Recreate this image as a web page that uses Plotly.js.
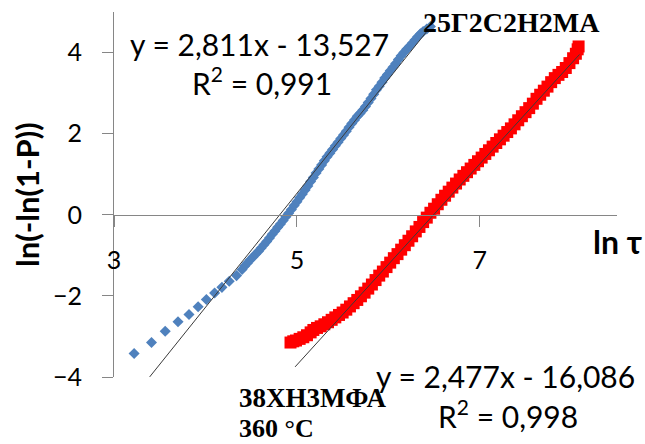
<!DOCTYPE html>
<html><head><meta charset="utf-8">
<script src="https://cdn.plot.ly/plotly-3.0.1.min.js"></script>
<style>html,body{margin:0;padding:0;background:#fff}#chart{width:645px;height:444px}</style>
</head><body><div id="chart"></div>
<script>
// 25Г2С2Н2МА (blue) data, ln τ vs ln(-ln(1-P))
const blueX = [3.22,3.41,3.56,3.70,3.82,3.92,4.01,4.10,4.18,4.26,4.34,4.40,
  4.43,4.46,4.49,4.52,4.55,4.58,4.61,4.64,4.67,4.70,4.73,4.76,4.79,4.82,4.85,4.88,4.91,4.94,4.97,
  5.00,5.03,5.06,5.09,5.12,5.15,5.18,5.21,5.24,5.27,5.30,5.33,5.36,5.39,5.42,5.45,5.48,5.51,5.54,
  5.57,5.60,5.63,5.66,5.69,5.72,5.75,5.78,5.81,5.84,5.87,5.90,5.93,5.96,5.99,6.02,6.05,6.08,6.11,
  6.14,6.17,6.20,6.23,6.26,6.29,6.32,6.35,6.38,6.42,6.46];
const blueY = [-3.42,-3.15,-2.87,-2.64,-2.46,-2.27,-2.09,-1.93,-1.79,-1.64,-1.50,-1.35,
  -1.26,-1.19,-1.11,-1.04,-0.97,-0.90,-0.82,-0.74,-0.66,-0.57,-0.48,-0.40,-0.31,-0.23,-0.14,-0.05,0.04,0.13,0.23,
  0.32,0.42,0.51,0.61,0.71,0.82,0.92,1.03,1.13,1.23,1.33,1.43,1.52,1.61,1.70,1.79,1.88,1.97,2.06,
  2.16,2.25,2.34,2.43,2.50,2.58,2.67,2.77,2.87,2.97,3.08,3.17,3.27,3.37,3.46,3.55,3.64,3.73,3.83,
  3.92,4.00,4.08,4.15,4.23,4.31,4.39,4.46,4.52,4.58,4.64];
// 38ХН3МФА (red) data
const redX = [4.93,4.96,4.99,5.03,5.07,5.11,5.15,5.18,5.22,5.26,5.30,5.34,5.38,5.42,5.46,5.50,5.54,
  5.58,5.62,5.66,5.70,5.74,5.78,5.82,5.86,5.90,5.94,5.98,6.02,6.06,6.10,6.14,6.18,6.22,6.26,6.30,
  6.34,6.38,6.42,6.46,6.50,6.54,6.58,6.62,6.66,6.70,6.74,6.78,6.82,6.86,6.90,6.94,6.98,7.02,7.06,
  7.10,7.14,7.18,7.22,7.26,7.30,7.34,7.38,7.42,7.46,7.50,7.54,7.58,7.62,7.66,7.70,7.74,7.78,7.82,
  7.86,7.90,7.94,7.98,8.02,8.05,8.07,8.08];
const redY = [-3.15,-3.12,-3.10,-3.06,-3.02,-2.97,-2.90,-2.84,-2.79,-2.75,-2.70,-2.65,-2.59,-2.53,-2.47,-2.41,-2.34,
  -2.26,-2.18,-2.10,-2.01,-1.92,-1.82,-1.72,-1.61,-1.50,-1.40,-1.29,-1.18,-1.07,-0.97,-0.86,-0.75,-0.64,-0.53,-0.41,
  -0.30,-0.18,-0.07,0.05,0.15,0.26,0.37,0.47,0.57,0.67,0.77,0.87,0.96,1.05,1.14,1.23,1.32,1.41,1.50,
  1.59,1.68,1.77,1.86,1.95,2.04,2.13,2.23,2.33,2.43,2.53,2.63,2.74,2.86,2.96,3.06,3.16,3.27,3.37,
  3.45,3.52,3.62,3.74,3.86,3.97,4.08,4.15];
// Linear trendlines
const trendSlope = [2.811, 2.477];
const trendIntercept = [-13.527, -16.086];
const trendXStart = [3.39, 4.98];
const trendXEnd = [6.44, 8.09];
const xTicks = [3, 5, 7];
const yTicks = [-4, -2, 0, 2, 4];

const SANS = 'Lato, "Open Sans", sans-serif';
const SERIF = '"Liberation Serif", "DejaVu Serif", serif';

const traces = [
  {x: blueX, y: blueY, mode: 'markers', type: 'scatter',
   marker: {symbol: 'diamond', size: 8.5, color: '#4F81BD'}},
  {x: redX, y: redY, mode: 'markers', type: 'scatter',
   marker: {symbol: 'square', size: 12, color: '#FF0000'}}
];
for (let i = 0; i < trendSlope.length; i++) {
  const xs = [trendXStart[i], trendXEnd[i]];
  traces.push({x: xs, y: xs.map(v => trendSlope[i] * v + trendIntercept[i]),
    mode: 'lines', type: 'scatter', line: {color: '#3a3a3a', width: 1}});
}

const L = 114, R = 28, T = 12, B = 67, W = 645, H = 444;
const pw = W - L - R, ph = H - T - B;
const fx = px => (px - L) / pw;
const fy = py => (H - B - py) / ph;

function ann(text, px, py, font, opts) {
  return Object.assign({text: text, xref: 'paper', yref: 'paper', x: fx(px), y: fy(py),
    showarrow: false, xanchor: 'center', yanchor: 'middle', font: font}, opts || {});
}
const eqFont = {family: SANS, size: 30, color: '#000'};
const serifFont = {family: SERIF, size: 28, color: '#000'};

const layout = {
  width: W, height: H,
  margin: {l: L, r: R, t: T, b: B},
  paper_bgcolor: '#fff', plot_bgcolor: '#fff',
  showlegend: false,
  xaxis: {range: [3, 8.5], tickvals: xTicks, ticks: 'outside', ticklen: 11, tickcolor: '#868686',
    showline: true, linecolor: '#868686', linewidth: 1, showgrid: false, zeroline: false,
    anchor: 'free', position: 4 / 9, ticklabelstandoff: 12,
    tickfont: {family: SANS, size: 25, color: '#000'}},
  yaxis: {range: [-4, 5], tickvals: yTicks, ticks: 'outside', ticklen: 11, tickcolor: '#868686',
    showline: true, linecolor: '#868686', linewidth: 1, showgrid: false, zeroline: false,
    ticklabelstandoff: 15,
    tickfont: {family: SANS, size: 25, color: '#000'}},
  annotations: [
    ann('y = 2,811x - 13,527', 259.5, 43.5, eqFont),
    ann('R<sup>2</sup> = 0,991', 261.7, 81, eqFont),
    ann('y = 2,477x - 16,086', 505, 376, eqFont),
    ann('R<sup>2</sup> = 0,998', 507.5, 414, eqFont),
    ann('<b>25Г2С2Н2МА</b>', 511, 23, serifFont),
    ann('<b>38ХН3МФА</b>', 237, 398, {family: SERIF, size: 27, color: '#000'}, {xanchor: 'left'}),
    ann('<b>360 °C</b>', 237, 428, {family: SERIF, size: 26, color: '#000'}, {xanchor: 'left'}),
    ann('<b>ln τ</b>', 617, 241, {family: SANS, size: 32, color: '#000'}),
    ann('<b>ln(-ln(1-P))</b>', 27, 195, {family: SANS, size: 31, color: '#000'}, {textangle: -90})
  ]
};

Plotly.newPlot('chart', traces, layout, {displayModeBar: false, staticPlot: true});
</script>
</body></html>
